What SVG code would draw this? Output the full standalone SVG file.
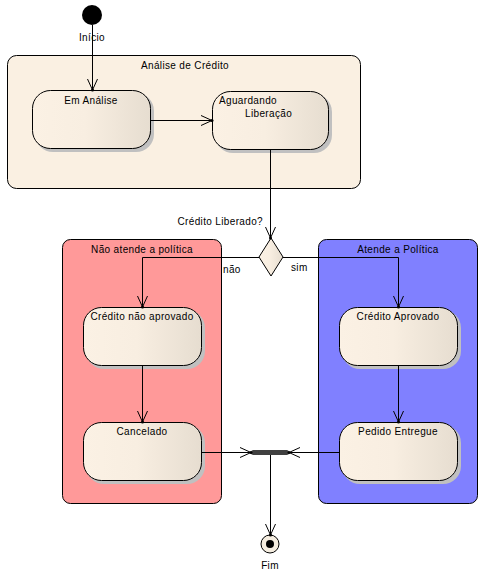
<svg xmlns="http://www.w3.org/2000/svg" width="486" height="578" viewBox="0 0 486 578">
<defs>
<linearGradient id="g" x1="0" y1="0" x2="1" y2="0">
<stop offset="0" stop-color="#FBF1E4"/><stop offset="0.45" stop-color="#F8EEE1"/><stop offset="1" stop-color="#E6DDD0"/>
</linearGradient>
<marker id="arr" viewBox="-12 -6 14 12" refX="0" refY="0" markerWidth="14" markerHeight="12" markerUnits="userSpaceOnUse" orient="auto">
<path d="M-11,-5 L0,0 L-11,5" fill="none" stroke="#000" stroke-width="1"/>
<circle cx="0" cy="0" r="1.5" fill="#000"/>
</marker>
</defs>
<style>
text{font-family:"Liberation Sans",Arial,sans-serif;font-size:10px;fill:#000;letter-spacing:0.35px;}
.c{text-anchor:middle;}
.state{fill:url(#g);stroke:#000;stroke-width:1;}
.shadow{fill:#C0C0C0;}
.comp{stroke:#000;stroke-width:1;}
.conn{fill:none;stroke:#000;stroke-width:1;}
</style>
<rect width="486" height="578" fill="#fff"/>

<g id="analise-credito">
<rect class="comp" x="7.5" y="55.5" width="353" height="133" rx="9" fill="#FAF0E2"/>
<text class="c" x="185" y="69">Análise de Crédito</text>
</g>
<g id="nao-atende">
<rect class="comp" x="62.5" y="239.5" width="159" height="264" rx="8" fill="#FF9999"/>
<text class="c" x="142" y="253">Não atende a política</text>
</g>
<g id="atende">
<rect class="comp" x="318.5" y="239.5" width="159" height="264" rx="8" fill="#8080FF"/>
<text class="c" x="398" y="253">Atende a Política</text>
</g>

<g id="inicio">
<circle cx="92" cy="15" r="10" fill="#000"/>
<text class="c" x="92" y="41">Início</text>
</g>

<g id="em-analise">
<rect class="shadow" x="35" y="93" width="119" height="59" rx="18"/>
<rect class="state" x="32.5" y="90.5" width="118" height="58" rx="18"/>
<text class="c" x="91" y="104">Em Análise</text>
</g>
<g id="aguardando">
<rect class="shadow" x="215" y="94" width="117" height="59" rx="18"/>
<rect class="state" x="212.5" y="91.5" width="116" height="58" rx="18"/>
<text x="219" y="104">Aguardando</text>
<text x="245" y="117">Liberação</text>
</g>
<g id="decisao">
<polygon points="271,238 283,257 271,276 259,257" fill="url(#g)" stroke="#000" stroke-width="1"/>
</g>
<g id="credito-nao-aprovado">
<rect class="shadow" x="86" y="310" width="119" height="59" rx="18"/>
<rect class="state" x="83.5" y="307.5" width="118" height="58" rx="18"/>
<text class="c" x="142" y="320">Crédito não aprovado</text>
</g>
<g id="cancelado">
<rect class="shadow" x="86" y="425" width="119" height="59" rx="18"/>
<rect class="state" x="83.5" y="422.5" width="118" height="58" rx="18"/>
<text class="c" x="142" y="435">Cancelado</text>
</g>
<g id="credito-aprovado">
<rect class="shadow" x="342" y="310" width="119" height="59" rx="18"/>
<rect class="state" x="339.5" y="307.5" width="118" height="58" rx="18"/>
<text class="c" x="398" y="320">Crédito Aprovado</text>
</g>
<g id="pedido-entregue">
<rect class="shadow" x="342" y="425" width="119" height="59" rx="18"/>
<rect class="state" x="339.5" y="422.5" width="118" height="58" rx="18"/>
<text class="c" x="398" y="435">Pedido Entregue</text>
</g>
<g id="juncao">
<rect x="251" y="450" width="38" height="5" rx="2.5" fill="#404040"/>
</g>
<g id="fim">
<circle cx="270" cy="544" r="9" fill="#F5EDE0" stroke="#000" stroke-width="1"/>
<circle cx="270" cy="544" r="4" fill="#000"/>
<text class="c" x="270" y="569">Fim</text>
</g>

<g id="connectors">
<path class="conn" d="M92.5,25 V90" marker-end="url(#arr)"/>
<path class="conn" d="M151,120.5 H212" marker-end="url(#arr)"/>
<path class="conn" d="M270.5,150 V238" marker-end="url(#arr)"/>
<text x="263" y="225" text-anchor="end">Crédito Liberado?</text>
<path class="conn" d="M259,257.5 H142.5 V307" marker-end="url(#arr)"/>
<text x="223" y="273">não</text>
<path class="conn" d="M283,257.5 H398.5 V307" marker-end="url(#arr)"/>
<text x="291" y="271">sim</text>
<path class="conn" d="M142.5,366 V422" marker-end="url(#arr)"/>
<path class="conn" d="M398.5,366 V422" marker-end="url(#arr)"/>
<path class="conn" d="M202,452.5 H251" marker-end="url(#arr)"/>
<path class="conn" d="M339,452.5 H289" marker-end="url(#arr)"/>
<path class="conn" d="M270.5,455 V535" marker-end="url(#arr)"/>
</g>
</svg>
